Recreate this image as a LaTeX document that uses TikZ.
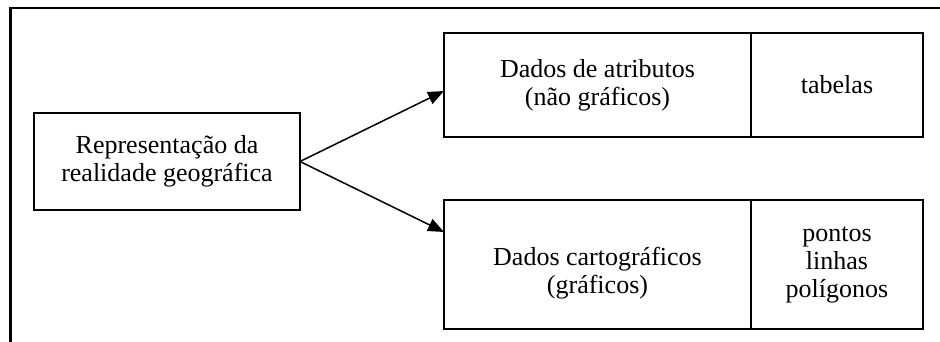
\documentclass[tikz,border=0pt]{standalone}
\usepackage{fontspec}
\setmainfont{Liberation Serif}
\usepackage{tikz}
\usetikzlibrary{arrows.meta, positioning}

\begin{document}
\begin{tikzpicture}[x=1pt, y=-1pt, >={Triangle[length=16pt, width=13pt]},
    caixa/.style={draw, line width=1.6pt, inner sep=0pt, outer sep=0pt,
                  align=center, font=\fontsize{26}{28}\selectfont},
    texto/.style={inner sep=0pt, align=center, font=\fontsize{26}{28}\selectfont},
    seta/.style={->, line width=1.5pt},
    moldura/.style={line width=2.4pt}]

    % =================================================================
    % 1. AREA DA FIGURA E MOLDURA (so topo e lado esquerdo)
    % =================================================================
    \useasboundingbox (0,0) rectangle (940,342);
    \draw[moldura] (10.5,342) -- (10.5,7.8) -- (940,7.8);

    % =================================================================
    % 2. CAIXAS
    % =================================================================
    % Caixa da esquerda
    \node[caixa, minimum width=266, minimum height=97] (repr) at (167,161.5)
        {Representação da\\realidade geográfica};

    % Linha de cima: atributos + tabelas
    \node[caixa, minimum width=307, minimum height=104] (attr) at (597.5,85)
        {Dados de atributos\\(não gráficos)};
    \node[caixa, minimum width=172, minimum height=104, right=0pt of attr] (tab)
        {tabelas};

    % Linha de baixo: cartograficos + pontos/linhas/poligonos
    \node[caixa, minimum width=307, minimum height=129] (carto) at (597.5,264.5) {};
    \node[texto] (carto txt) at ([yshift=-9pt]carto.center)
        {Dados cartográficos\\(gráficos)};
    \node[caixa, minimum width=172, minimum height=129, right=0pt of carto] (geom)
        {pontos\\linhas\\polígonos};

    % =================================================================
    % 3. SETAS
    % =================================================================
    \coordinate (attr in) at ([yshift=-6pt]attr.west);
    \coordinate (carto in) at ([yshift=32.5pt]carto.west);
    \draw[seta] (repr.east) -- (attr in);
    \draw[seta] (repr.east) -- (carto in);

\end{tikzpicture}
\end{document}
